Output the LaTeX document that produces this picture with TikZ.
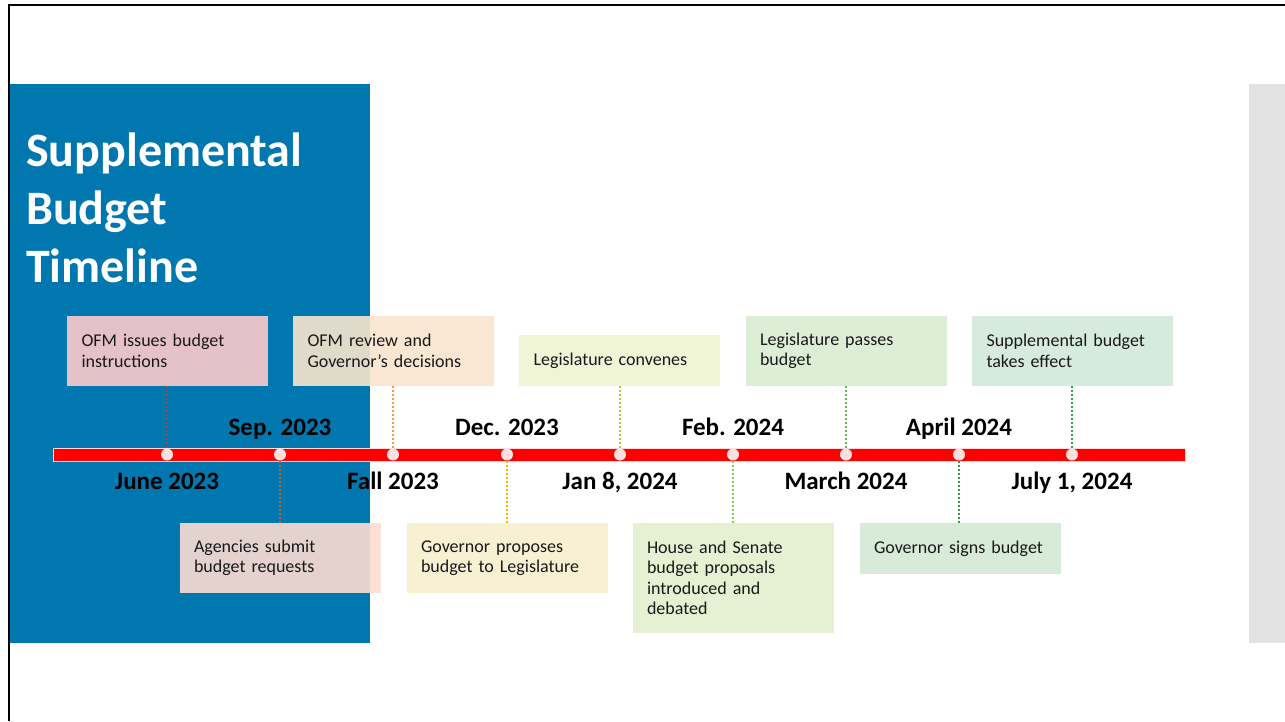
\documentclass[tikz,border=0pt]{standalone}
\usepackage{fontspec}
\setmainfont{Carlito}
\begin{document}
\begin{tikzpicture}[x=1pt,y=-1pt,
  evbox/.style={rectangle, inner sep=0pt, minimum width=201pt, text width=172pt, align=left,
     font=\fontsize{18}{20.5}\selectfont, text=black!90, fill opacity=0.9, text opacity=1},
  datelbl/.style={font=\fontsize{25}{28}\selectfont\bfseries, inner sep=0pt, anchor=base},
  tick/.style={circle, inner sep=0pt, minimum size=12pt, fill=white, fill opacity=0.88, draw=none},
  conn/.style={line width=1.2pt, dash pattern=on 2pt off 2pt},
]
\definecolor{panelblue}{HTML}{0077AE}
\definecolor{panelgrey}{HTML}{E3E3E3}
\definecolor{cA}{HTML}{FECBCC}
\definecolor{cB}{HTML}{F9E5CF}
\definecolor{cC}{HTML}{EFF5D3}
\definecolor{cD}{HTML}{DAEDD2}
\definecolor{cE}{HTML}{D2E8DA}
\definecolor{cF}{HTML}{FCDCD2}
\definecolor{cG}{HTML}{F7F0CC}
\definecolor{cH}{HTML}{E3F0CE}
\definecolor{cI}{HTML}{D3E9D4}
\definecolor{lA}{HTML}{A8404E}
\definecolor{lB}{HTML}{EE9A48}
\definecolor{lC}{HTML}{A8D050}
\definecolor{lD}{HTML}{60B848}
\definecolor{lE}{HTML}{28A058}
\definecolor{lF}{HTML}{C0602E}
\definecolor{lG}{HTML}{E8C000}
\definecolor{lH}{HTML}{88CC48}
\definecolor{lI}{HTML}{389848}
\useasboundingbox (0,0) rectangle (1285,721);
\fill[white] (0,0) rectangle (1285,721);
% frame
\draw[line width=2pt, black] (9,721) -- (9,5) -- (1285,5);
% panels
\fill[panelblue] (10,84) rectangle (370,643);
\fill[panelgrey] (1249,84) rectangle (1285,643);
% title
\node[anchor=north west, inner sep=0pt, align=left, text=white,
  font=\fontsize{48}{58}\selectfont\bfseries] (title) at (26,132.5)
  {Supplemental\\Budget\\Timeline};
% bar
\fill[red, draw=white!85!red, line width=0.8pt] (53,448) rectangle (1185,461);
% ticks
\foreach \n/\x in {t1/167,t2/280,t3/393,t4/507,t5/620,t6/733,t7/846,t8/959,t9/1072}
  \node[tick] (\n) at (\x,454.5) {};
% date labels
\node[datelbl] (d1) at (167,489) {June 2023};
\node[datelbl] (d2) at (280,435) {Sep. 2023};
\node[datelbl] (d3) at (393,489) {Fall 2023};
\node[datelbl] (d4) at (507,435) {Dec. 2023};
\node[datelbl] (d5) at (620,489) {Jan 8, 2024};
\node[datelbl] (d6) at (733,435) {Feb. 2024};
\node[datelbl] (d7) at (846,489) {March 2024};
\node[datelbl] (d8) at (959,435) {April 2024};
\node[datelbl] (d9) at (1072,489) {July 1, 2024};
% top boxes
\node[evbox, fill=cA, minimum height=70pt] (bA) at (167.5,351) {OFM issues budget\\instructions};
\node[evbox, fill=cB, minimum height=70pt] (bB) at (393.5,351) {OFM review and\\Governor’s decisions};
\node[evbox, fill=cC, minimum height=51pt] (bC) at (619.5,360.5) {Legislature convenes};
\node[evbox, fill=cD, minimum height=70pt] (bD) at (846,351) {Legislature passes\\budget};
\node[evbox, fill=cE, minimum height=70pt] (bE) at (1072.5,351) {Supplemental budget\\takes effect};
% bottom boxes
\node[evbox, fill=cF, minimum height=70pt] (bF) at (280,558) {Agencies submit\\budget requests};
\node[evbox, fill=cG, minimum height=70pt] (bG) at (507,558) {Governor proposes\\budget to Legislature};
\node[evbox, fill=cH, minimum height=110pt] (bH) at (733,578) {House and Senate\\budget proposals\\introduced and\\debated};
\node[evbox, fill=cI, minimum height=51pt] (bI) at (960,548.5) {Governor signs budget};
% connectors
\draw[conn, lA] (bA.south -| t1) -- (t1.north);
\draw[conn, lB] (bB.south -| t3) -- (t3.north);
\draw[conn, lC] (bC.south -| t5) -- (t5.north);
\draw[conn, lD] (bD.south -| t7) -- (t7.north);
\draw[conn, lE] (bE.south -| t9) -- (t9.north);
\draw[conn, lF] (t2.south) -- (bF.north -| t2);
\draw[conn, lG] (t4.south) -- (bG.north -| t4);
\draw[conn, lH] (t6.south) -- (bH.north -| t6);
\draw[conn, lI] (t8.south) -- (bI.north -| t8);
\end{tikzpicture}
\end{document}
